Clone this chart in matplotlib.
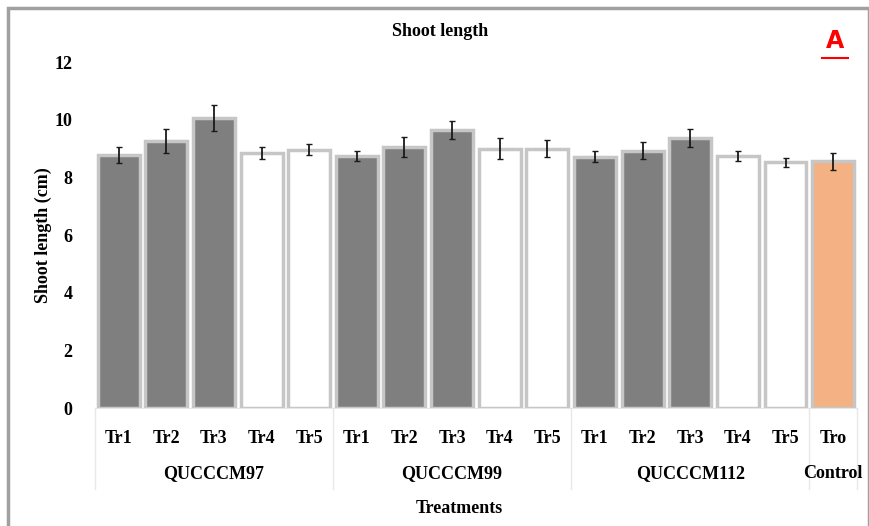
import matplotlib
matplotlib.use("Agg")
import matplotlib.pyplot as plt
import matplotlib.transforms as mtransforms
from matplotlib.patches import Rectangle
import numpy as np

# data
groups = ["QUCCCM97", "QUCCCM99", "QUCCCM112", "Control"]
group_sizes = [5, 5, 5, 1]
tick_labels = ["Tr1", "Tr2", "Tr3", "Tr4", "Tr5",
               "Tr1", "Tr2", "Tr3", "Tr4", "Tr5",
               "Tr1", "Tr2", "Tr3", "Tr4", "Tr5", "Tro"]
values = [8.78, 9.26, 10.06, 8.85, 8.95,
          8.74, 9.05, 9.64, 9.00, 9.00,
          8.72, 8.92, 9.35, 8.74, 8.52, 8.55]
errors = [0.27, 0.40, 0.45, 0.20, 0.19,
          0.18, 0.35, 0.31, 0.38, 0.28,
          0.19, 0.30, 0.31, 0.16, 0.16, 0.28]
fills = ["#7f7f7f"] * 3 + ["white"] * 2 + ["#7f7f7f"] * 3 + ["white"] * 2 \
        + ["#7f7f7f"] * 3 + ["white"] * 2 + ["#f4b183"]

plt.rcParams['font.family'] = ['Liberation Serif', 'DejaVu Serif']
plt.rcParams['font.weight'] = 'bold'
fs = 13

fig = plt.figure(figsize=(8.7, 5.26), dpi=100)
ax = fig.add_axes([0.109, 0.2243, 0.876, 0.6578])

x = np.arange(len(values))
ax.bar(x, values, width=0.88, color=fills, edgecolor="#c6c6c6", linewidth=2.5, zorder=2)
ax.errorbar(x, values, yerr=errors, fmt="none", ecolor="#1a1a1a", elinewidth=1.3,
            capsize=2, capthick=1, zorder=3)

ax.set_xlim(-0.5, len(values) - 0.5)
ax.set_ylim(0, 12)
ax.set_yticks([0, 2, 4, 6, 8, 10, 12])
ax.tick_params(axis="y", length=0, pad=16, labelsize=fs)
ax.tick_params(axis="x", length=0, pad=16, labelsize=fs)
ax.set_xticks(x)
ax.set_xticklabels(tick_labels)
for s in ["top", "right", "left"]:
    ax.spines[s].set_visible(False)
ax.spines["bottom"].set_color("#e6e6e6")

ax.set_ylabel("Shoot length (cm)", fontsize=fs, fontweight="bold", labelpad=2)
fig.text(0.506, 0.94, "Shoot length", ha="center", va="center", fontsize=fs)

# category table under the axis
trans = mtransforms.blended_transform_factory(ax.transData, ax.transAxes)
start = -0.5
bounds = [start]
for g, n in zip(groups, group_sizes):
    mid = start + n / 2
    ax.text(mid, -0.19, g, transform=trans, ha="center", va="center", fontsize=fs)
    start += n
    bounds.append(start)
for b in bounds:
    ax.plot([b, b], [0, -0.235], transform=trans, color="#e8e8e8", lw=1, clip_on=False)

fig.text(0.528, 0.034, "Treatments", ha="center", va="center", fontsize=fs)

# panel letter
fig.text(0.96, 0.922, "A", color="red", ha="center", va="center", fontsize=17,
         family="DejaVu Sans", fontweight="bold")
fig.add_artist(plt.Line2D([0.945, 0.975], [0.89, 0.89], color="red", lw=1.5,
                          transform=fig.transFigure))

# figure frame
fig.add_artist(Rectangle((0.009, -0.01), 0.99, 0.995, transform=fig.transFigure,
                         fill=False, edgecolor="#a0a0a0", lw=2.5))

fig.savefig("out.png", dpi=100)
